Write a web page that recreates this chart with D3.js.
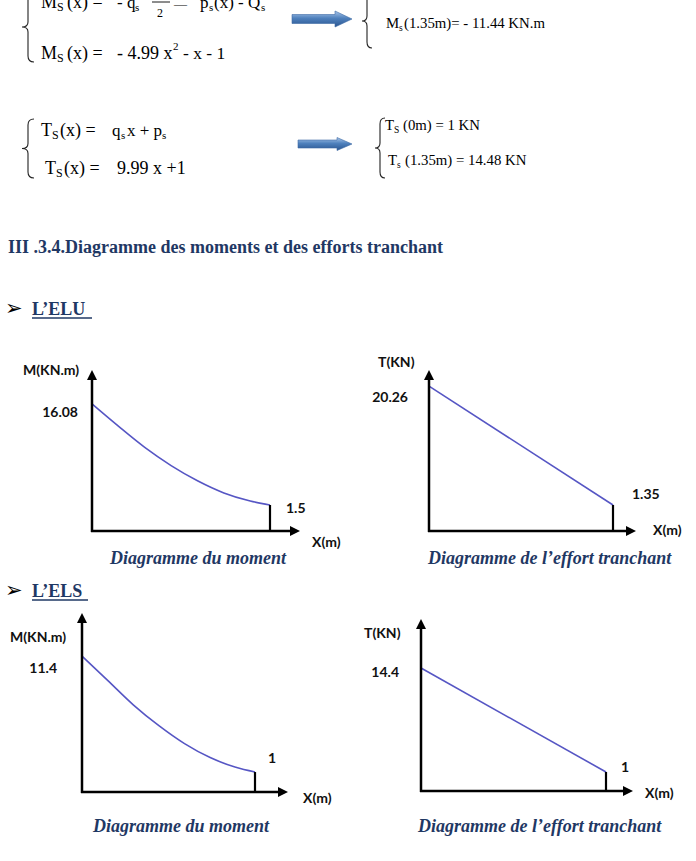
<!DOCTYPE html>
<html><head><meta charset="utf-8">
<script src="https://cdn.jsdelivr.net/npm/d3@7"></script>
<style>
html,body{margin:0;padding:0;background:#fff;}
svg{display:block;}
.eq{font-family:"Liberation Serif","Times New Roman",serif;fill:#000;}
.lab{font-family:Lato,"Open Sans",sans-serif;font-weight:700;font-size:14px;fill:#111;}
.cap{font-family:"Liberation Serif","Times New Roman",serif;font-weight:700;font-style:italic;font-size:18px;fill:#1f3864;}
.head{font-family:"Liberation Serif","Times New Roman",serif;font-weight:700;fill:#1f3864;}
</style>
</head><body>
<script>
// ---------- DATA ----------
const momentX    = [0, 0.2, 0.4, 0.6, 0.8, 1.0, 1.2, 1.35];
const eluMoment  = [16.08, 12.87, 9.81, 7.19, 5.0, 3.25, 2.08, 1.5];
const elsMoment  = [11.4, 9.22, 7.03, 5.16, 3.55, 2.3, 1.42, 1.0];
const shearX     = [0, 1.35];
const eluShear   = [20.26, 1.35];
const elsShear   = [14.4, 1];
const startLabels = ["16.08", "20.26", "11.4", "14.4"];
const endLabels   = ["1.5", "1.35", "1", "1"];
const yTitles  = ["M(KN.m)", "T(KN)", "M(KN.m)", "T(KN)"];
const xTitle   = "X(m)";
const captions = ["Diagramme du moment", "Diagramme de l\u2019effort tranchant", "Diagramme du moment", "Diagramme de l\u2019effort tranchant"];

// ---------- LAYOUT ----------
const W = 696, H = 861;
const svg = d3.select("body").append("svg").attr("width", W).attr("height", H);
svg.append("rect").attr("width", W).attr("height", H).attr("fill", "#fff");

const defs = svg.append("defs");
const g = defs.append("linearGradient").attr("id","arrowGrad").attr("x1",0).attr("y1",0).attr("x2",0).attr("y2",1);
g.append("stop").attr("offset","0%").attr("stop-color","#a9c6ea");
g.append("stop").attr("offset","45%").attr("stop-color","#4f81bd");
g.append("stop").attr("offset","100%").attr("stop-color","#2a5590");

// ---------- EQUATIONS ----------
function txt(x, y, s, size) {
  return svg.append("text").attr("class","eq").attr("x",x).attr("y",y).attr("font-size",size).text(s);
}
function brace(x, y0, y1, w) {
  const ym = (y0 + y1) / 2;
  const p = `M${x+w},${y0} Q${x},${y0} ${x},${y0+6} L${x},${ym-5} Q${x},${ym} ${x-w},${ym} Q${x},${ym} ${x},${ym+5} L${x},${y1-6} Q${x},${y1} ${x+w},${y1}`;
  svg.append("path").attr("d", p).attr("fill","none").attr("stroke","#222").attr("stroke-width",1.1);
}
function blockArrow(x0, x1, yc, bh, hh, hl) {
  const p = `M${x0},${yc-bh/2} L${x1-hl},${yc-bh/2} L${x1-hl},${yc-hh/2} L${x1},${yc} L${x1-hl},${yc+hh/2} L${x1-hl},${yc+bh/2} L${x0},${yc+bh/2} Z`;
  svg.append("path").attr("d", p).attr("fill","url(#arrowGrad)").attr("stroke","#3d6aa5").attr("stroke-width",0.6);
}

// top-left block (Moment ELS)
brace(28, -8, 62, 6);
txt(41, 8, "M", 18); txt(57, 11, "S", 12); txt(67, 8, "(x) =", 18);
txt(117, 8, "- q", 17); txt(135, 11, "s", 11);
svg.append("line").attr("x1",152).attr("x2",170).attr("y1",2).attr("y2",2).attr("stroke","#000").attr("stroke-width",0.9);
txt(157, 17, "2", 12);
txt(174, 8, "\u2014", 13);
txt(200, 8, "p", 17); txt(209, 11, "s", 11); txt(214, 8, "(x) - Q", 17); txt(261, 11, "s", 11);

txt(41, 59, "M", 18); txt(57, 62, "S", 12); txt(67, 59, "(x) =", 18);
txt(117, 59, "- 4.99 x", 18); txt(173, 50, "2", 11); txt(183, 59, "- x - 1", 17.5);

blockArrow(292, 352, 19, 9, 16, 17);
brace(367, -6, 48, 5);
txt(386, 28, "M", 14.8); txt(399, 31, "s", 9.5); txt(404, 28, "(1.35m)= - 11.44 KN.m", 14.8);

// lower-left block (Shear ELS)
brace(28, 119, 178, 6);
txt(41, 136, "T", 18); txt(52, 139, "S", 12); txt(60, 136, "(x) =", 18);
txt(112, 136, "q", 17); txt(121, 139, "s", 11); txt(127, 136, "x + p", 17); txt(162, 139, "s", 11);
txt(45, 174, "T", 18); txt(56, 177, "S", 12); txt(64, 174, "(x) =", 18);
txt(117, 174, "9.99 x +1", 18);

blockArrow(298, 352, 144, 8, 13, 15);
brace(380, 118, 178, 5);
txt(385, 130, "T", 14.8); txt(394, 133, "S", 9.5); txt(403, 130, "(0m) = 1 KN", 14.8);
txt(388, 165, "T", 14.8); txt(397, 168, "s", 9.5); txt(405, 165, "(1.35m) = 14.48 KN", 14.8);

// headings
svg.append("text").attr("class","head").attr("x",8).attr("y",253).attr("font-size",18)
  .text("III .3.4.Diagramme des moments et des efforts tranchant");
function bullet(x, y, label, underlineW) {
  svg.append("text").attr("x", x).attr("y", y).attr("font-family","DejaVu Sans").attr("font-size",21).attr("fill","#000").text("\u27A2");
  svg.append("text").attr("class","head").attr("x", x + 27).attr("y", y).attr("font-size",18).text(label);
  svg.append("line").attr("x1", x + 27).attr("x2", x + 27 + underlineW).attr("y1", y + 3).attr("y2", y + 3)
    .attr("stroke","#1f3864").attr("stroke-width",1.4);
}
bullet(5, 315, "L\u2019ELU", 60);
bullet(5, 597, "L\u2019ELS", 56);

// ---------- DIAGRAMS ----------
const panels = [
  { xs: momentX, ys: eluMoment, curve: true,  x0: 92,  x1: 270, xTip: 300, base: 531, top: 370, dom: [-2.25, 20.98],
    sl: [78, 412], el: [286, 508], yt: [23, 370], xt: [312, 542], cap: [110, 564] },
  { xs: shearX,  ys: eluShear,  curve: false, x0: 429, x1: 613, xTip: 636, base: 531, top: 370, dom: [-2.78, 22.82],
    sl: [408, 397], el: [632, 494], yt: [378, 362], xt: [653, 530], cap: [428, 564] },
  { xs: momentX, ys: elsMoment, curve: true,  x0: 82,  x1: 255, xTip: 288, base: 792, top: 613, dom: [-0.79, 15.26],
    sl: [57, 668], el: [268, 758], yt: [10, 637], xt: [303, 798], cap: [93, 832] },
  { xs: shearX,  ys: elsShear,  curve: false, x0: 421, x1: 606, xTip: 633, base: 791, top: 619, dom: [-1.45, 20.72],
    sl: [399, 672], el: [621, 767], yt: [364, 633], xt: [645, 793], cap: [418, 832] }
];

panels.forEach((p, i) => {
  const x = d3.scaleLinear().domain([0, 1.35]).range([p.x0, p.x1]);
  const y = d3.scaleLinear().domain(p.dom).range([p.base, p.top]);
  const gp = svg.append("g");
  const pts = p.xs.map((v, j) => [v, p.ys[j]]);
  const line = d3.line().x(d => x(d[0])).y(d => y(d[1])).curve(p.curve ? d3.curveMonotoneX : d3.curveLinear);
  gp.append("path").attr("d", line(pts)).attr("fill","none").attr("stroke","#5656c4").attr("stroke-width",1.6);

  const yEnd = y(p.ys[p.ys.length - 1]);
  gp.append("line").attr("x1", x(1.35)).attr("x2", x(1.35)).attr("y1", yEnd).attr("y2", p.base)
    .attr("stroke","#000").attr("stroke-width",2.2);
  gp.append("line").attr("x1", x(0)).attr("x2", x(0)).attr("y1", p.base + 1).attr("y2", p.top + 8)
    .attr("stroke","#000").attr("stroke-width",2.5);
  gp.append("line").attr("x1", x(0) - 1).attr("x2", p.xTip - 8).attr("y1", p.base).attr("y2", p.base)
    .attr("stroke","#000").attr("stroke-width",2.5);
  gp.append("path").attr("d", `M${x(0)},${p.top} L${x(0)-5},${p.top+10} L${x(0)+5},${p.top+10} Z`).attr("fill","#000");
  gp.append("path").attr("d", `M${p.xTip},${p.base} L${p.xTip-10},${p.base-5} L${p.xTip-10},${p.base+5} Z`).attr("fill","#000");

  gp.append("text").attr("class","lab").attr("x", p.sl[0]).attr("y", p.sl[1]).attr("dy","0.36em").attr("text-anchor","end").text(startLabels[i]);
  gp.append("text").attr("class","lab").attr("x", p.el[0]).attr("y", p.el[1]).attr("dy","0.36em").text(endLabels[i]);
  gp.append("text").attr("class","lab").attr("x", p.yt[0]).attr("y", p.yt[1]).attr("dy","0.36em").text(yTitles[i]);
  gp.append("text").attr("class","lab").attr("x", p.xt[0]).attr("y", p.xt[1]).attr("dy","0.36em").text(xTitle);
  gp.append("text").attr("class","cap").attr("x", p.cap[0]).attr("y", p.cap[1]).text(captions[i]);
});
</script>
</body></html>
